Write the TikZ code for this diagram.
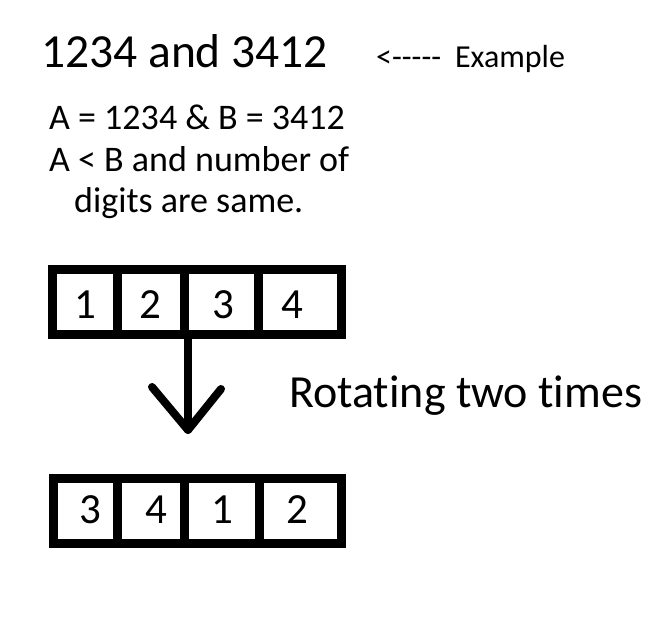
\documentclass[tikz,border=0pt]{standalone}
\usepackage{fontspec}
\setmainfont{Carlito}[Ligatures=NoCommon]
\begin{document}
\begin{tikzpicture}[x=1pt,y=-1pt,
  boxline/.style={line width=9pt},
  digit/.style={font=\fontsize{43}{43}\selectfont, anchor=base},
  txt/.style={anchor=base west, inner sep=0pt},
  arrowline/.style={line width=8pt, line cap=round, line join=round}]
\useasboundingbox (0,0) rectangle (666,620);
\fill[white] (0,0) rectangle (666,620);
% headings
\node[txt, font=\fontsize{47.5}{47.5}\selectfont] (title) at (41,68) {1234 and 3412};
\node[txt, font=\fontsize{32}{32}\selectfont] (ex) at (376,68) {<-{}-{}-{}-{}-\hspace{14pt}Example};
\node[txt, font=\fontsize{36}{36}\selectfont] (l1) at (49,130) {A = 1234 \& B = 3412};
\node[txt, font=\fontsize{36}{36}\selectfont] (l2) at (49,172) {A < B and number of};
\node[txt, font=\fontsize{36}{36}\selectfont] (l3) at (74,213) {digits are same.};
% top box
\node[draw, boxline, minimum width=289pt, minimum height=65pt, inner sep=0pt, outer sep=0pt, anchor=north west] (top) at (52.5,269.5) {};
\draw[boxline] (117.5,269.5) -- (117.5,334.5);
\draw[boxline] (184,269.5) -- (184,334.5);
\draw[boxline] (258.5,269.5) -- (258.5,334.5);
\node[digit] (t1) at (85,318) {1};
\node[digit] (t2) at (150,318) {2};
\node[digit] (t3) at (223,318) {3};
\node[digit] (t4) at (292,318) {4};
% arrow
\coordinate (tip) at (188,430);
\draw[arrowline] (188,335) -- (tip);
\draw[arrowline] (152,387) -- (tip) -- (221,389);
\node[txt, font=\fontsize{46}{46}\selectfont] (rot) at (289,407) {Rotating two times};
% bottom box
\node[draw, boxline, minimum width=288pt, minimum height=65pt, inner sep=0pt, outer sep=0pt, anchor=north west] (bot) at (53.5,478.5) {};
\draw[boxline] (117.5,478.5) -- (117.5,543.5);
\draw[boxline] (184.5,478.5) -- (184.5,543.5);
\draw[boxline] (259,478.5) -- (259,543.5);
\node[digit] (b1) at (90,523) {3};
\node[digit] (b2) at (156,523) {4};
\node[digit] (b3) at (222,523) {1};
\node[digit] (b4) at (297,523) {2};
\end{tikzpicture}
\end{document}
